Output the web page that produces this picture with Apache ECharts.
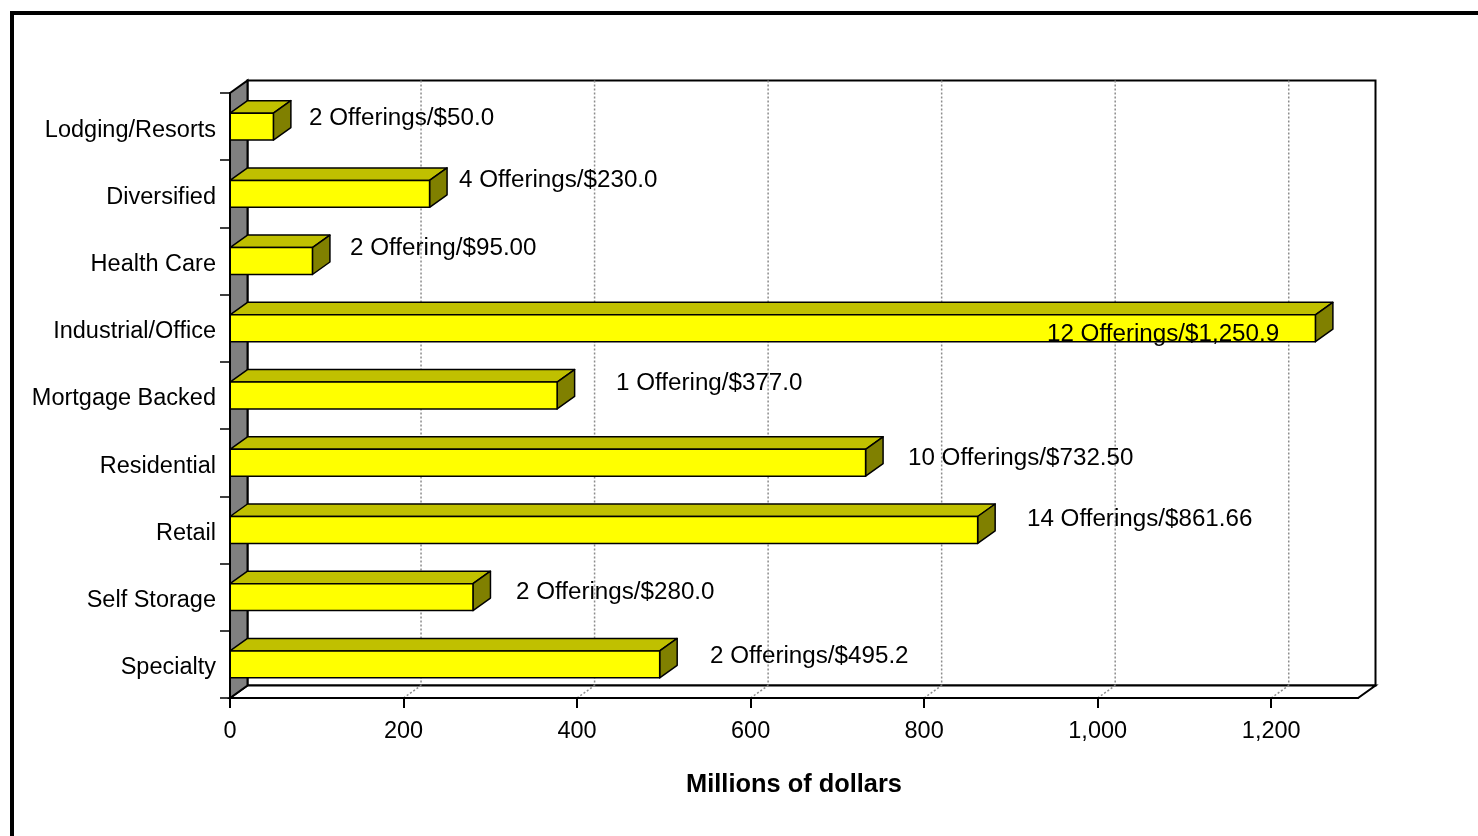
<!DOCTYPE html>
<html>
<head>
<meta charset="utf-8">
<title>Offerings by property type</title>
<script src="https://cdn.jsdelivr.net/npm/echarts@6.0.0/dist/echarts.min.js"></script>
<style>
  html, body { margin: 0; padding: 0; background: #fff; }
  #chart { width: 1478px; height: 836px; }
</style>
</head>
<body>
<div id="chart"></div>
<script>
// Property types, top to bottom
const categories = [
  'Lodging/Resorts', 'Diversified', 'Health Care', 'Industrial/Office',
  'Mortgage Backed', 'Residential', 'Retail', 'Self Storage', 'Specialty'
];
// Amount raised, millions of dollars
const amounts = [50.0, 230.0, 95.00, 1250.9, 377.0, 732.50, 861.66, 280.0, 495.2];
// Data label text per bar
const offeringLabels = [
  '2 Offerings/$50.0', '4 Offerings/$230.0', '2 Offering/$95.00',
  '12 Offerings/$1,250.9', '1 Offering/$377.0', '10 Offerings/$732.50',
  '14 Offerings/$861.66', '2 Offerings/$280.0', '2 Offerings/$495.2'
];
// Value-axis ticks
const tickValues = [0, 200, 400, 600, 800, 1000, 1200];

// Label placement relative to each bar end (px)
const labelNudge = [
  [35.6, -8.4], [29.4, -13.6], [37.6, -12.8], [-268.4, 6], [58.9, -12.2],
  [42.4, -4.4], [49.3, -10.6], [43, -4.8], [50.3, -8]
];

// Depth of the 3D box (px)
const DX = 17.5, DY = -12.5;
const FONT = '"Liberation Sans", Arial, Helvetica, sans-serif';
const FS = 23.5;
const LABEL_FS = 24.2;

const chart = echarts.init(document.getElementById('chart'), null, { renderer: 'canvas' });

function renderWalls(params, api) {
  const cs = params.coordSys;
  const gx = cs.x, gy = cs.y, gw = cs.width, gh = cs.height;
  const line = { stroke: '#000', lineWidth: 2 };
  return {
    type: 'group',
    children: [
      { type: 'polygon', shape: { points: [[gx + DX, gy + DY], [gx + gw + DX, gy + DY], [gx + gw + DX, gy + gh + DY], [gx + DX, gy + gh + DY]] },
        style: Object.assign({ fill: '#fff' }, line) },
      { type: 'polygon', shape: { points: [[gx, gy + gh], [gx + gw, gy + gh], [gx + gw + DX, gy + gh + DY], [gx + DX, gy + gh + DY]] },
        style: Object.assign({ fill: '#fff' }, line) },
      { type: 'polygon', shape: { points: [[gx, gy], [gx + DX, gy + DY], [gx + DX, gy + gh + DY], [gx, gy + gh]] },
        style: Object.assign({ fill: '#808080' }, line) }
    ]
  };
}

function renderGrid(params, api) {
  const cs = params.coordSys;
  const x = api.coord([api.value(0), 0])[0];
  const yTop = cs.y + DY, yBot = cs.y + cs.height;
  const st = { stroke: '#8c8c8c', lineWidth: 1.5, lineDash: [2, 2] };
  return {
    type: 'group',
    children: [
      { type: 'line', shape: { x1: x + DX, y1: yTop, x2: x + DX, y2: yBot + DY }, style: st },
      { type: 'line', shape: { x1: x, y1: yBot, x2: x + DX, y2: yBot + DY }, style: st }
    ]
  };
}

function renderBar(params, api) {
  const i = params.dataIndex;
  const v = api.value(0), idx = api.value(1);
  const start = api.coord([0, idx]);
  const end = api.coord([v, idx]);
  const h = api.size([0, 1])[1] * 0.4;
  const x0 = start[0], x1 = end[0];
  const yT = start[1] - h / 2, yB = start[1] + h / 2;
  const edge = { stroke: '#000', lineWidth: 1.5, lineJoin: 'round' };
  return {
    type: 'group',
    children: [
      { type: 'polygon', shape: { points: [[x0, yT], [x1, yT], [x1 + DX, yT + DY], [x0 + DX, yT + DY]] },
        style: Object.assign({ fill: '#C0C000' }, edge) },
      { type: 'polygon', shape: { points: [[x1, yT], [x1 + DX, yT + DY], [x1 + DX, yB + DY], [x1, yB]] },
        style: Object.assign({ fill: '#808000' }, edge) },
      { type: 'rect', shape: { x: x0, y: yT, width: x1 - x0, height: h },
        style: Object.assign({ fill: '#FFFF00' }, edge) },
      { type: 'text', style: {
          text: offeringLabels[i], x: x1 + labelNudge[i][0], y: start[1] + labelNudge[i][1],
          verticalAlign: 'middle', align: 'left', fill: '#000', font: LABEL_FS + 'px ' + FONT
        } }
    ]
  };
}

chart.setOption({
  animation: false,
  backgroundColor: '#fff',
  textStyle: { fontFamily: FONT },
  grid: { left: 230, right: 120, top: 93, bottom: 138, containLabel: false },
  xAxis: {
    type: 'value', min: 0, max: 1300, interval: 200, z: 10,
    axisLine: { show: true, lineStyle: { color: '#000', width: 2 } },
    axisTick: { show: true, length: 10, customValues: tickValues, lineStyle: { color: '#000', width: 2 } },
    axisLabel: {
      customValues: tickValues, margin: 22, color: '#000', fontSize: FS, fontFamily: FONT,
      formatter: v => v.toLocaleString('en-US')
    },
    splitLine: { show: false },
    name: 'Millions of dollars', nameLocation: 'middle', nameGap: 74,
    nameTextStyle: { color: '#000', fontSize: 25.4, fontWeight: 'bold', fontFamily: FONT }
  },
  yAxis: {
    type: 'category', data: categories, inverse: true, z: 10,
    axisLine: { show: true, lineStyle: { color: '#000', width: 2 } },
    axisTick: { show: true, length: 10, lineStyle: { color: '#000', width: 1.5 } },
    axisLabel: {
      margin: 14, color: '#000', fontSize: FS, fontFamily: FONT,
      verticalAlign: 'top', lineHeight: 7
    },
    splitLine: { show: false }
  },
  graphic: [{
    type: 'rect', z: 100,
    shape: { x: 12, y: 13, width: 1520, height: 900 },
    style: { fill: 'none', stroke: '#000', lineWidth: 4 }
  }],
  series: [
    { type: 'custom', name: 'walls', renderItem: renderWalls, data: [[0, 0]], z: 1, silent: true },
    { type: 'custom', name: 'grid', renderItem: renderGrid, data: tickValues.filter(v => v > 0).map(v => [v, 0]), z: 2, silent: true },
    { type: 'custom', name: 'Amount', renderItem: renderBar, data: amounts.map((v, i) => [v, i]), z: 3,
      encode: { x: 0, y: 1 } }
  ]
});
</script>
</body>
</html>
